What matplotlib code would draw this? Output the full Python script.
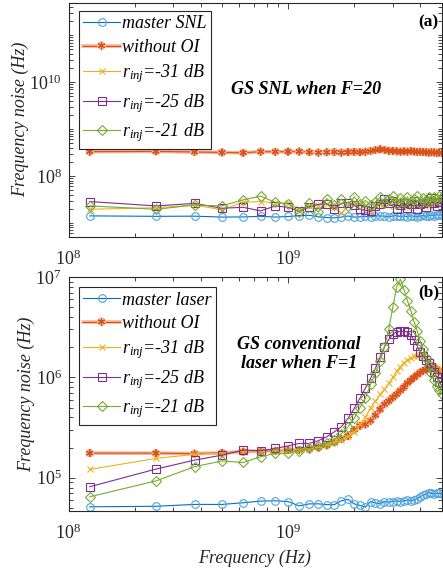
import numpy as np
import matplotlib.pyplot as plt
import matplotlib.patheffects as pe
from matplotlib.ticker import LogLocator, NullFormatter

plt.rcParams['font.family'] = 'serif'
plt.rcParams['font.serif'] = ['Liberation Serif', 'DejaVu Serif']
plt.rcParams['mathtext.fontset'] = 'custom'
plt.rcParams['mathtext.rm'] = 'Liberation Serif'
plt.rcParams['mathtext.it'] = 'Liberation Serif:italic'
plt.rcParams['mathtext.bf'] = 'Liberation Serif:bold'

# modulation frequency grid (GHz), 125 MHz steps
freq_ghz = [0.125, 0.25, 0.375, 0.5, 0.625, 0.75, 0.875, 1.0, 1.125, 1.25,
            1.375, 1.5, 1.625, 1.75, 1.875, 2.0, 2.125, 2.25, 2.375, 2.5,
            2.625, 2.75, 2.875, 3.0, 3.125, 3.25, 3.375, 3.5, 3.625, 3.75,
            3.875, 4.0, 4.125, 4.25, 4.375, 4.5, 4.625, 4.75, 4.875, 5.0]

# (a) GS SNL, F=20  -- frequency noise in units of 1e7 Hz
snl_master = [1.41, 1.38, 1.39, 1.33, 1.34, 1.38, 1.33, 1.37, 1.42, 1.45,
              1.35, 1.30, 1.28, 1.33, 1.40, 1.33, 1.35, 1.38, 1.35, 1.40,
              1.42, 1.38, 1.35, 1.40, 1.43, 1.37, 1.40, 1.36, 1.42, 1.38,
              1.35, 1.40, 1.44, 1.38, 1.42, 1.47, 1.43, 1.50, 1.46, 1.48]
snl_free = [33.0, 33.5, 32.5, 31.8, 31.2, 33.0, 32.8, 33.0, 33.2, 32.2,
            31.5, 32.0, 32.5, 31.5, 32.2, 32.8, 32.0, 33.0, 34.0, 35.5,
            37.0, 36.0, 34.5, 34.0, 33.5, 33.0, 33.5, 33.0, 33.8, 33.2,
            32.8, 33.0, 32.5, 32.0, 31.5, 32.0, 31.8, 31.2, 31.5, 31.0]
snl_r31 = [1.95, 2.10, 2.40, 1.90, 2.75, 2.85, 2.65, 2.60, 2.00, 2.30,
           2.40, 2.50, 2.20, 1.60, 2.30, 2.60, 2.50, 2.20, 1.70, 2.40,
           2.60, 2.50, 2.80, 2.30, 2.60, 2.90, 2.50, 2.20, 2.70, 2.60,
           2.40, 2.80, 3.00, 2.50, 2.30, 2.70, 2.90, 2.60, 2.80, 2.70]
snl_r25 = [2.85, 2.30, 2.60, 2.05, 2.15, 1.80, 2.30, 2.15, 1.75, 2.20,
           2.50, 2.55, 2.00, 2.60, 2.70, 2.40, 1.95, 1.85, 1.75, 2.30,
           2.50, 3.20, 2.60, 3.00, 2.00, 2.40, 2.70, 2.10, 2.50, 2.90,
           2.00, 2.50, 2.70, 2.20, 2.90, 3.40, 2.60, 2.30, 2.80, 3.30]
snl_r21 = [2.30, 1.95, 2.40, 2.30, 3.10, 3.70, 2.75, 2.55, 1.70, 2.60,
           1.70, 3.30, 2.40, 3.20, 2.30, 3.60, 2.50, 3.00, 2.40, 2.80,
           3.50, 2.60, 3.30, 3.70, 2.50, 3.40, 2.80, 3.60, 2.60, 3.20,
           3.70, 2.70, 3.40, 2.90, 3.60, 3.00, 3.50, 3.20, 3.70, 3.50]

# (b) GS conventional laser, F=1  -- frequency noise in units of 1e5 Hz
conv_master = [0.514, 0.52, 0.543, 0.543, 0.564, 0.586, 0.59, 0.58, 0.525, 0.55,
               0.55, 0.54, 0.54, 0.59, 0.61, 0.55, 0.53, 0.51, 0.58, 0.56,
               0.55, 0.58, 0.57, 0.58, 0.59, 0.58, 0.59, 0.60, 0.59, 0.60,
               0.62, 0.65, 0.67, 0.69, 0.71, 0.70, 0.69, 0.70, 0.70, 0.69]
conv_free = [1.76, 1.76, 1.74, 1.77, 1.82, 1.84, 1.86, 1.88, 1.90, 1.95,
             2.00, 2.10, 2.25, 2.45, 2.60, 3.00, 3.30, 3.40, 3.70, 4.20,
             4.80, 5.40, 5.80, 6.30, 6.80, 7.40, 8.00, 8.80, 9.40, 10.0,
             10.6, 11.2, 11.6, 12.0, 12.3, 12.5, 12.3, 12.0, 11.6, 11.2]
conv_r31 = [1.21, 1.56, 1.71, 1.77, 1.82, 1.83, 1.85, 1.88, 1.90, 1.95,
            2.05, 2.15, 2.25, 2.40, 2.60, 2.85, 3.40, 4.00, 5.00, 5.80,
            6.80, 7.60, 8.80, 10.0, 11.5, 12.8, 14.0, 15.0, 15.6, 16.2,
            16.5, 16.6, 16.3, 15.5, 14.6, 13.8, 13.0, 12.4, 11.8, 11.5]
conv_r25 = [0.815, 1.22, 1.50, 1.68, 1.89, 1.86, 1.96, 2.08, 2.20, 2.20,
            2.34, 2.56, 2.87, 3.22, 3.90, 4.90, 6.20, 7.80, 9.80, 12.3,
            16.0, 20.2, 23.9, 27.0, 28.5, 28.7, 28.7, 28.5, 26.4, 23.5,
            20.5, 18.0, 16.3, 14.9, 13.8, 12.6, 11.4, 10.1, 9.0, 8.4]
conv_r21 = [0.647, 0.93, 1.29, 1.47, 1.42, 1.62, 1.75, 1.75, 1.86, 1.96,
            2.08, 2.20, 2.40, 2.75, 3.20, 3.90, 5.00, 6.20, 8.50, 11.0,
            14.5, 20.0, 30.0, 50.0, 80.0, 95.0, 75.0, 58.0, 46.0, 36.0,
            29.0, 23.0, 19.0, 15.5, 13.0, 11.0, 9.5, 8.3, 7.5, 6.9]

labels_a = ['master SNL', 'without OI', r'$r_{inj}$=-31 dB', r'$r_{inj}$=-25 dB', r'$r_{inj}$=-21 dB']
labels_b = ['master laser', 'without OI', r'$r_{inj}$=-31 dB', r'$r_{inj}$=-25 dB', r'$r_{inj}$=-21 dB']

line_colors = ['#0072BD', '#D95319', '#EDB120', '#7E2F8E', '#77AC30']
marker_colors = ['#4DA3DE', '#D95319', '#EDB120', '#7E2F8E', '#77AC30']
markers = ['o', (6, 2, 0), 'x', 's', 'D']
msizes = [5.5, 5.5, 4, 5.5, 5]

f = np.array(freq_ghz) * 1e9

fig = plt.figure(figsize=(4.43, 5.71), dpi=100)
ax_a = fig.add_axes([68.5 / 443, 1 - 237 / 571, (441.5 - 68.5) / 443, (237 - 2.5) / 571])
ax_b = fig.add_axes([68.5 / 443, 1 - 510.7 / 571, (441.5 - 68.5) / 443, (510.7 - 277) / 571])


def draw_panel(ax, series, scale, labels):
    for i, vals in enumerate(series):
        kw = {}
        if i == 1:
            kw['path_effects'] = [pe.Stroke(linewidth=2.6, foreground='#F3B49A'), pe.Normal()]
        ax.plot(f, np.array(vals) * scale, color=line_colors[i], lw=0.8,
                marker=markers[i], ms=msizes[i], mfc='none', mec=marker_colors[i],
                mew=0.8, label=labels[i], **kw)
    ax.set_xscale('log')
    ax.set_yscale('log')
    ax.set_xlim(1e8, 5e9)
    ax.set_xticks([1e8, 1e9])
    ax.set_xticklabels([r'$10^{8}$', r'$10^{9}$'])
    ax.xaxis.set_minor_locator(LogLocator(base=10, subs=np.arange(1, 10), numticks=50))
    ax.yaxis.set_minor_locator(LogLocator(base=10, subs=np.arange(1, 10), numticks=50))
    ax.xaxis.set_minor_formatter(NullFormatter())
    ax.yaxis.set_minor_formatter(NullFormatter())
    ax.tick_params(which='both', direction='in', top=True, right=True, width=0.6,
                   labelsize=13, colors='#262626', labelcolor='#262626')
    ax.tick_params(which='major', length=4)
    ax.tick_params(which='minor', length=3)
    ax.tick_params(axis='x', pad=9)
    ax.tick_params(axis='y', pad=5)
    for sp in ax.spines.values():
        sp.set_linewidth(0.8)
        sp.set_color('#262626')
    ax.set_ylabel('Frequency noise (Hz)', fontsize=13, style='italic', color='#262626', labelpad=0)


def add_legend(ax, anchor_y):
    leg = ax.legend(loc='upper left', bbox_to_anchor=(0.028, anchor_y), borderaxespad=0,
                    prop={'style': 'italic', 'size': 13}, handlelength=2.0,
                    handletextpad=0.15, borderpad=0.25, labelspacing=0.36, fancybox=False,
                    edgecolor='#262626', framealpha=1)
    leg.get_frame().set_linewidth(0.8)
    return leg


draw_panel(ax_a, [snl_master, snl_free, snl_r31, snl_r25, snl_r21], 1e7, labels_a)
ax_a.set_ylim(5e6, 5e11)
ax_a.set_yticks([1e8, 1e10])
ax_a.set_yticklabels([r'$10^{8}$', r'$10^{10}$'])
add_legend(ax_a, 0.964)
ax_a.text(0.636, 0.631, 'GS SNL when F=20', transform=ax_a.transAxes, ha='center', va='center',
          fontsize=13, fontweight='bold', style='italic')
ax_a.text(0.965, 0.917, '(a)', transform=ax_a.transAxes, ha='center', va='center',
          fontsize=12.5, fontweight='bold')

draw_panel(ax_b, [conv_master, conv_free, conv_r31, conv_r25, conv_r21], 1e5, labels_b)
ax_b.set_ylim(4.7e4, 1e7)
ax_b.set_yticks([1e5, 1e6, 1e7])
ax_b.set_yticklabels([r'$10^{5}$', r'$10^{6}$', r'$10^{7}$'])
add_legend(ax_b, 0.957)
ax_b.text(0.618, 0.67, 'GS conventional\nlaser when F=1', transform=ax_b.transAxes,
          ha='center', va='center', fontsize=13, fontweight='bold', style='italic',
          linespacing=1.1)
ax_b.text(0.965, 0.936, '(b)', transform=ax_b.transAxes, ha='center', va='center',
          fontsize=12.5, fontweight='bold')
ax_b.set_xlabel('Frequency (Hz)', fontsize=13, style='italic', color='#262626', labelpad=5)

fig.savefig('out.png', dpi=100)
